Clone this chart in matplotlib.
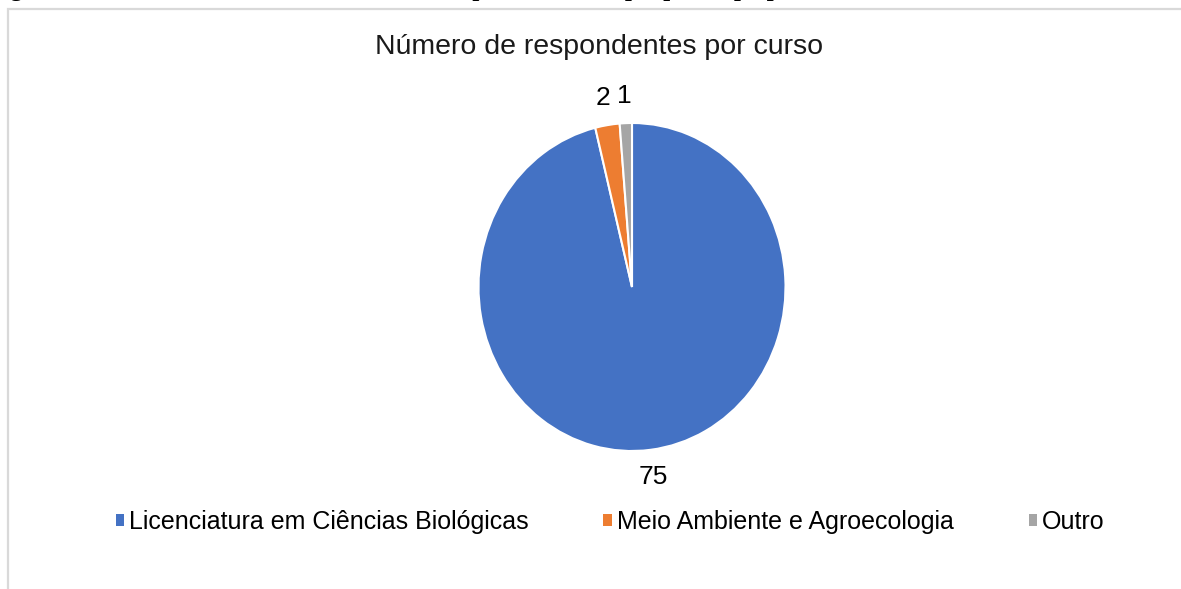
import matplotlib
matplotlib.use("Agg")
import matplotlib.pyplot as plt
from matplotlib.patches import Rectangle, Patch

categories = ["Licenciatura em Ciências Biológicas", "Meio Ambiente e Agroecologia", "Outro"]
values = [75, 2, 1]
colors = ["#4472C4", "#ED7D31", "#A5A5A5"]
title = "Número de respondentes por curso"
caption = "Figura 1 – Número de discentes identificados por curso em que participa por cada área"

plt.rcParams['font.family'] = ['Liberation Sans', 'DejaVu Sans']

W, H = 1181, 589
fig = plt.figure(figsize=(W / 100, H / 100), dpi=100)
fig.patch.set_facecolor("white")

# cropped caption line at the very top (only descenders visible)
fig.text(-0.01, 1 + 4 / H, caption, family=['Liberation Serif', 'DejaVu Serif'],
         fontweight='bold', fontsize=18, va='baseline', ha='left', color='black')

# chart frame
fig.add_artist(Rectangle((8 / W, -0.1), 1.2, 1 - 9 / H + 0.1, transform=fig.transFigure,
                         fill=False, edgecolor="#D9D9D9", linewidth=1.6, clip_on=False))

cx, cy, rx, ry = 632, 287, 153.5, 164
ax = fig.add_axes([(cx - rx) / W, (H - cy - ry) / H, 2 * rx / W, 2 * ry / H])
total = sum(values)
wedges, texts, autotexts = ax.pie(
    values, colors=colors, startangle=90, counterclock=False,
    wedgeprops=dict(edgecolor="white", linewidth=1.5),
    autopct=lambda p: f"{round(p * total / 100)}", pctdistance=1.165,
    textprops=dict(fontsize=19, color="#000000"))
ax.set_aspect('auto')
ax.set_xlim(-1, 1)
ax.set_ylim(-1, 1)

fig.text(599 / W, 1 - 47 / H, title, ha='center', va='center', fontsize=20.5, color="#1a1a1a")

handles = [Patch(facecolor=c, edgecolor='none') for c in colors]
fig.legend(handles, categories, loc='center', bbox_to_anchor=(610 / W, 1 - 522 / H),
           ncol=3, frameon=False, fontsize=18, handlelength=0.33, handleheight=0.33,
           handletextpad=0.2, columnspacing=3.0, borderpad=0, borderaxespad=0)

fig.savefig("out.png", dpi=100)
